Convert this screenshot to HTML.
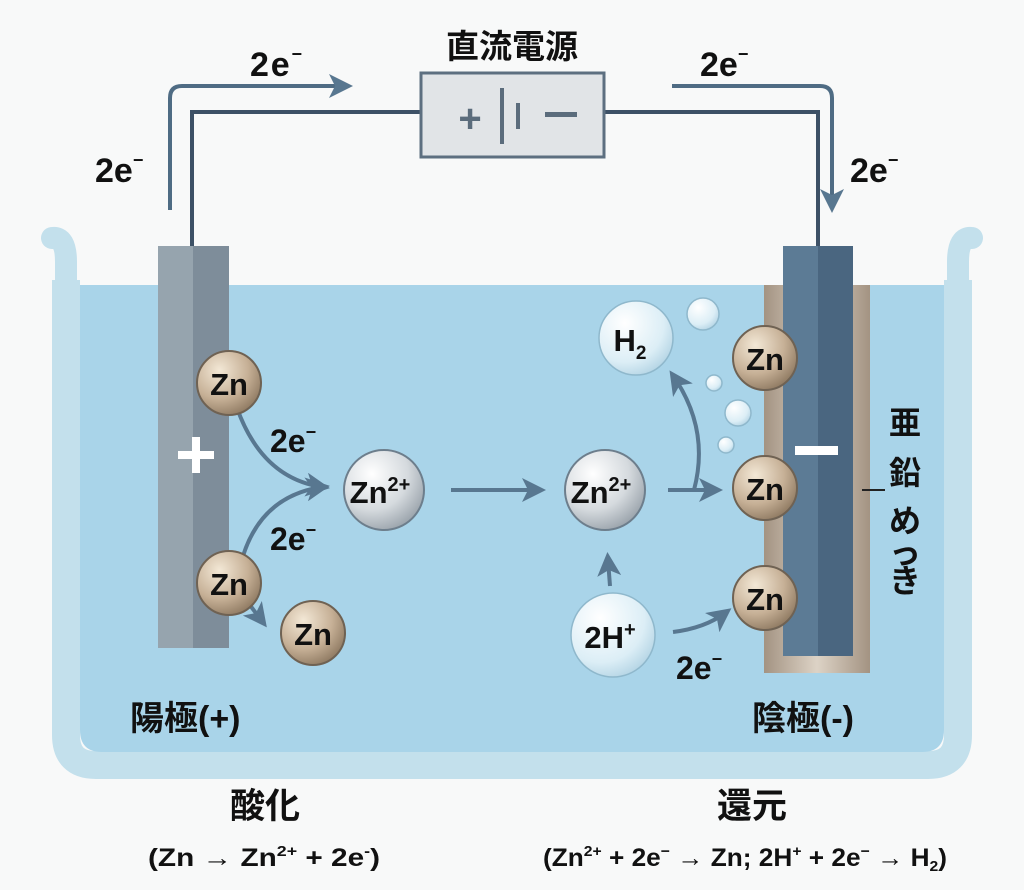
<!DOCTYPE html>
<html><head><meta charset="utf-8"><style>
html,body{margin:0;padding:0;background:#f8f9f9;}
svg{display:block;font-family:"Liberation Sans","Noto Sans CJK JP",sans-serif;font-weight:bold;}
</style></head><body>
<svg width="1024" height="890" viewBox="0 0 1024 890" xmlns="http://www.w3.org/2000/svg">
<defs>
<radialGradient id="zn" cx="0.35" cy="0.3" r="0.75"><stop offset="0" stop-color="#f3e8d6"/><stop offset="0.6" stop-color="#c6b096"/><stop offset="1" stop-color="#8f7a62"/></radialGradient>
<radialGradient id="ion" cx="0.35" cy="0.3" r="0.75"><stop offset="0" stop-color="#ffffff"/><stop offset="0.6" stop-color="#d5dade"/><stop offset="1" stop-color="#9aa3ab"/></radialGradient>
<radialGradient id="h" cx="0.35" cy="0.3" r="0.75"><stop offset="0" stop-color="#ffffff"/><stop offset="0.7" stop-color="#dceef6"/><stop offset="1" stop-color="#b5d5e5"/></radialGradient>
<linearGradient id="plate" x1="0" x2="1"><stop offset="0" stop-color="#a39382"/><stop offset="0.5" stop-color="#ddd3c6"/><stop offset="1" stop-color="#a39382"/></linearGradient>
<marker id="ah" markerWidth="6" markerHeight="6" refX="4" refY="3" orient="auto" markerUnits="strokeWidth"><path d="M0,0 L6,3 L0,6 L1.5,3 Z" fill="#587790"/></marker>
</defs>
<!-- beaker -->
<path d="M66,280 L66,735 Q66,765 96,765 L928,765 Q958,765 958,735 L958,280" fill="none" stroke="#c3e0ec" stroke-width="28"/>
<path d="M52,238 Q66,236 66,262 L66,290" fill="none" stroke="#c3e0ec" stroke-width="22" stroke-linecap="round"/>
<path d="M972,238 Q958,236 958,262 L958,290" fill="none" stroke="#c3e0ec" stroke-width="22" stroke-linecap="round"/>
<path d="M80,285 L944,285 L944,730 Q944,752 922,752 L102,752 Q80,752 80,730 Z" fill="#a9d4e9"/>
<!-- wires -->
<path d="M192,248 L192,112 L420,112 M604,112 L818,112 L818,248" fill="none" stroke="#3d5166" stroke-width="4"/>
<rect x="421" y="73" width="183" height="84" fill="#e1e4e7" stroke="#5d6f80" stroke-width="3"/>
<text x="470" y="132" font-size="40" fill="#5b6c7c" text-anchor="middle" font-weight="bold">+</text>
<rect x="500" y="88" width="4" height="56" fill="#5b6c7c"/><rect x="516" y="103" width="4" height="26" fill="#5b6c7c"/>
<rect x="545" y="112" width="32" height="5" fill="#5b6c7c"/>
<text x="512" y="58" font-size="33" text-anchor="middle" fill="#111">直流電源</text>
<!-- outer arrows -->
<path d="M170,210 L170,98 Q170,86 182,86 L345,86" fill="none" stroke="#4f6c84" stroke-width="4" marker-end="url(#ah)"/>
<path d="M672,86 L820,86 Q832,86 832,98 L832,205" fill="none" stroke="#4f6c84" stroke-width="4" marker-end="url(#ah)"/>
<g font-size="34" fill="#111">
<text x="250" y="76" textLength="52">2e<tspan font-size="18" dy="-16">−</tspan></text>
<text x="700" y="76">2e<tspan font-size="18" dy="-16">−</tspan></text>
<text x="95" y="182">2e<tspan font-size="18" dy="-16">−</tspan></text>
<text x="850" y="182">2e<tspan font-size="18" dy="-16">−</tspan></text>
</g>
<!-- left electrode -->
<rect x="158" y="246" width="35" height="402" fill="#96a4ae"/>
<rect x="193" y="246" width="36" height="402" fill="#7e8d9a"/>
<rect x="178" y="451" width="36" height="8" fill="#fff"/><rect x="192" y="437" width="8" height="36" fill="#fff"/>
<!-- right electrode -->
<rect x="764" y="285" width="106" height="388" fill="url(#plate)"/>
<rect x="783" y="246" width="35" height="410" fill="#5c7b95"/>
<rect x="818" y="246" width="35" height="410" fill="#4a6680"/>
<rect x="795" y="446" width="43" height="9" fill="#fff"/>
<line x1="862" y1="490" x2="885" y2="490" stroke="#222" stroke-width="2"/>
<g font-size="32" fill="#111" text-anchor="middle"><text x="905" y="434">亜</text><text x="905" y="484">鉛</text><text x="905" y="532">め</text><text x="905" y="564">っ</text><text x="905" y="592">き</text></g>
<!-- arrows inside -->
<g fill="none" stroke="#587790" stroke-width="4">
<path d="M237,408 Q262,478 322,487" marker-end="url(#ah)"/>
<path d="M243,556 Q262,496 322,487" marker-end="url(#ah)"/>
<path d="M246,600 L262,621" marker-end="url(#ah)"/>
<path d="M451,490 L538,490" marker-end="url(#ah)"/>
<path d="M668,490 L715,490" marker-end="url(#ah)"/>
<path d="M694,490 Q710,430 674,377" marker-end="url(#ah)"/>
<path d="M610,586 L608,560" marker-end="url(#ah)"/>
<path d="M673,632 Q705,628 725,613" marker-end="url(#ah)"/>
</g>
<!-- bubbles -->
<g fill="url(#h)" stroke="#8fb8cc" stroke-width="1.5">
<circle cx="703" cy="314" r="16"/><circle cx="714" cy="383" r="8"/><circle cx="738" cy="413" r="13"/><circle cx="726" cy="445" r="8"/>
<circle cx="636" cy="338" r="37"/><circle cx="613" cy="635" r="42"/>
</g>
<g fill="url(#ion)" stroke="#6d7e8c" stroke-width="2"><circle cx="384" cy="490" r="40"/><circle cx="605" cy="490" r="40"/></g>
<g fill="url(#zn)" stroke="#6f6253" stroke-width="2">
<circle cx="229" cy="383" r="32"/><circle cx="229" cy="583" r="32"/><circle cx="313" cy="633" r="32"/>
<circle cx="765" cy="358" r="32"/><circle cx="765" cy="488" r="32"/><circle cx="765" cy="598" r="32"/>
</g>
<g font-size="31" fill="#111" text-anchor="middle">
<text x="229" y="395">Zn</text><text x="229" y="595">Zn</text><text x="313" y="645">Zn</text>
<text x="765" y="370">Zn</text><text x="765" y="500">Zn</text><text x="765" y="610">Zn</text>
<text x="380" y="503">Zn<tspan font-size="20" dy="-12">2+</tspan></text>
<text x="601" y="503">Zn<tspan font-size="20" dy="-12">2+</tspan></text>
<text x="630" y="351">H<tspan font-size="19" dy="8">2</tspan></text>
<text x="610" y="648">2H<tspan font-size="20" dy="-12">+</tspan></text>
</g>
<g font-size="32" fill="#111">
<text x="270" y="452">2e<tspan font-size="18" dy="-14">−</tspan></text>
<text x="270" y="550">2e<tspan font-size="18" dy="-14">−</tspan></text>
<text x="676" y="679">2e<tspan font-size="18" dy="-14">−</tspan></text>
<text x="130" y="730" font-size="34">陽極(+)</text>
<text x="752" y="730" font-size="34">陰極(-)</text>
<text x="265" y="818" font-size="35" text-anchor="middle">酸化</text>
<text x="752" y="818" font-size="35" text-anchor="middle">還元</text>
</g>
<g font-size="25" fill="#111" font-weight="bold">
<text x="148" y="866" textLength="232" lengthAdjust="spacingAndGlyphs">(Zn → Zn<tspan font-size="15" dy="-10">2+</tspan><tspan dy="10"> + 2e</tspan><tspan font-size="15" dy="-10">-</tspan><tspan dy="10">)</tspan></text>
<text x="543" y="866" textLength="404" lengthAdjust="spacingAndGlyphs">(Zn<tspan font-size="15" dy="-10">2+</tspan><tspan dy="10"> + 2e</tspan><tspan font-size="15" dy="-10">−</tspan><tspan dy="10"> → Zn; 2H</tspan><tspan font-size="15" dy="-10">+</tspan><tspan dy="10"> + 2e</tspan><tspan font-size="15" dy="-10">−</tspan><tspan dy="10"> → H</tspan><tspan font-size="15" dy="5">2</tspan><tspan dy="-5">)</tspan></text>
</g>
</svg>
</body></html>
